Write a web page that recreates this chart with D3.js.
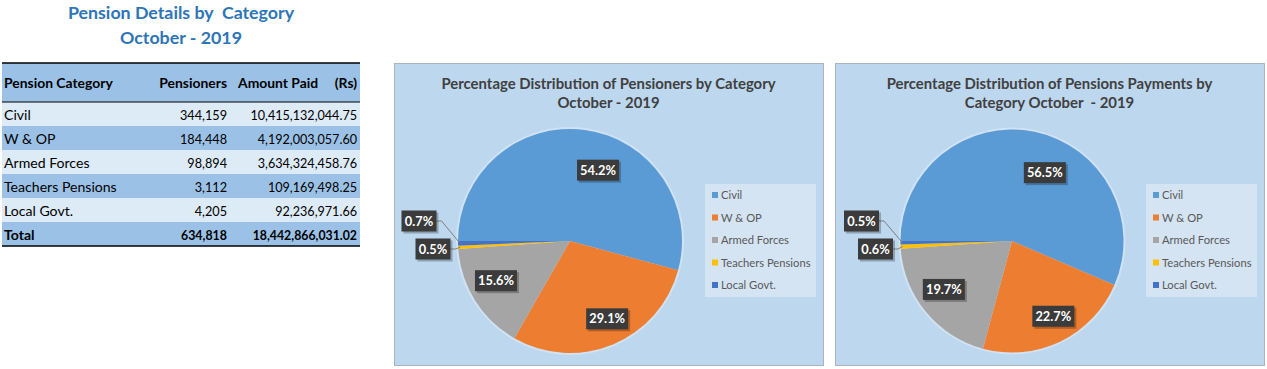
<!DOCTYPE html>
<html>
<head>
<meta charset="utf-8">
<script src="https://cdn.jsdelivr.net/npm/d3@7"></script>
<style>
  html, body { margin: 0; padding: 0; background: #ffffff; }
  svg { display: block; font-family: Lato, "Open Sans", sans-serif; }
  text { white-space: pre; }
</style>
</head>
<body>
<svg id="chart" width="1267" height="369"></svg>
<script>
// ---------- DATA ----------
const tableTitle = ["Pension Details by  Category", "October - 2019"];
const tableHeaders = ["Pension Category", "Pensioners", "Amount Paid", "(Rs)"];
const categories = ["Civil", "W & OP", "Armed Forces", "Teachers Pensions", "Local Govt."];
const pensioners = [344159, 184448, 98894, 3112, 4205];
const amountPaid = [10415132044.75, 4192003057.60, 3634324458.76, 109169498.25, 92236971.66];
const totalLabel = "Total";
const pie1Title = ["Percentage Distribution of Pensioners by Category", "October - 2019"];
const pie2Title = ["Percentage Distribution of Pensions Payments by", "Category October  - 2019"];

// ---------- STYLE / LAYOUT ----------
const sliceColors = ["#5B9BD5", "#ED7D31", "#A5A5A5", "#FFC000", "#4472C4"];
// label placement per slice: inside labels (angle offset deg, radius fraction), outside labels (dx beyond left edge, dy)
const labelLayout = [
  { inside: true, da: 14, rf: 0.68 },
  { inside: true, da: -3, rf: 0.77 },
  { inside: true, da: 4, rf: 0.75 },
  { inside: false, dx: -25, dy: 8 },
  { inside: false, dx: -39, dy: -20 }
];

const svg = d3.select("#chart");
const fmtInt = d3.format(",");
const fmtAmt = d3.format(",.2f");
const fmtPct = d3.format(".1%");

// ---------- TABLE ----------
const tX0 = 2, tX1 = 360;
const title = svg.append("g").attr("fill", "#2E75B6").attr("font-weight", "bold").attr("font-size", 17.8).attr("text-anchor", "middle");
title.append("text").attr("x", 181).attr("y", 19).text(tableTitle[0]);
title.append("text").attr("x", 181).attr("y", 44).text(tableTitle[1]);

const headerTop = 63, headerH = 39, rowH = 24;
const dark = "#9BC2E6", light = "#DDEBF7";
svg.append("rect").attr("x", tX0).attr("y", headerTop).attr("width", tX1 - tX0).attr("height", headerH).attr("fill", dark);

const rows = categories.map((c, i) => ({ name: c, p: pensioners[i], a: amountPaid[i], bold: false }));
rows.push({ name: totalLabel, p: d3.sum(pensioners), a: d3.sum(amountPaid), bold: true });

const colP = 227, colA = 357;
const rowG = svg.append("g").selectAll("g").data(rows).join("g")
  .attr("transform", (d, i) => `translate(0,${headerTop + headerH + i * rowH})`);
rowG.append("rect").attr("x", tX0).attr("width", tX1 - tX0).attr("height", rowH)
  .attr("fill", (d, i) => i % 2 === 0 ? light : dark);
rowG.append("text").attr("x", 4).attr("y", 18).attr("font-size", 14.1).attr("fill", "#000")
  .attr("font-weight", d => d.bold ? "bold" : "normal").text(d => d.name);
rowG.append("text").attr("x", colP).attr("y", 18).attr("text-anchor", "end")
  .attr("font-size", d => d.bold ? 12.4 : 12.7)
  .attr("font-weight", d => d.bold ? "bold" : "normal").text(d => fmtInt(d.p));
rowG.append("text").attr("x", colA).attr("y", 18).attr("text-anchor", "end")
  .attr("font-size", d => d.bold ? 12.3 : 12.6)
  .attr("font-weight", d => d.bold ? "bold" : "normal").text(d => fmtAmt(d.a));

const hdr = svg.append("g").attr("font-weight", "bold").attr("font-size", 13.9).attr("fill", "#000");
hdr.append("text").attr("x", 4).attr("y", 88).text(tableHeaders[0]);
hdr.append("text").attr("x", colP).attr("y", 88).attr("text-anchor", "end").text(tableHeaders[1]);
hdr.append("text").attr("x", 238).attr("y", 88).text(tableHeaders[2]);
hdr.append("text").attr("x", colA).attr("y", 88).attr("text-anchor", "end").text(tableHeaders[3]);

const tableBottom = headerTop + headerH + rows.length * rowH;
svg.append("line").attr("x1", tX0).attr("x2", tX1).attr("y1", headerTop).attr("y2", headerTop).attr("stroke", "#000").attr("stroke-width", 1.5);
svg.append("line").attr("x1", tX0).attr("x2", tX1).attr("y1", headerTop + headerH).attr("y2", headerTop + headerH).attr("stroke", "#000").attr("stroke-width", 1);
svg.append("line").attr("x1", tX0).attr("x2", tX1).attr("y1", tableBottom).attr("y2", tableBottom).attr("stroke", "#000").attr("stroke-width", 1.5);

// ---------- PIES ----------
function drawPie(opts) {
  const { x, y, w, h, values, titleLines, cx, cy, r } = opts;
  const g = svg.append("g");
  g.append("rect").attr("x", x + 0.5).attr("y", y + 0.5).attr("width", w).attr("height", h)
    .attr("fill", "#BDD7EE").attr("stroke", "#A9B4BF").attr("stroke-width", 1);

  const tg = g.append("g").attr("font-weight", "bold").attr("font-size", 14.9).attr("fill", "#404040").attr("text-anchor", "middle");
  tg.append("text").attr("x", x + w / 2).attr("y", y + 26).text(titleLines[0]);
  tg.append("text").attr("x", x + w / 2).attr("y", y + 45).text(titleLines[1]);

  const total = d3.sum(values);
  const pie = d3.pie().sort(null).startAngle(-Math.PI / 2).endAngle(1.5 * Math.PI);
  const arcs = pie(values).map((a, i) => ({ ...a, i }));
  const arc = d3.arc().innerRadius(0).outerRadius(r);

  const pg = g.append("g").attr("transform", `translate(${cx},${cy})`);
  pg.append("circle").attr("r", r + 2).attr("fill", "#DCE9F6").attr("opacity", 0.6);
  pg.selectAll("path").data(arcs).join("path").attr("d", arc).attr("fill", d => sliceColors[d.i]);

  // labels
  arcs.forEach(d => {
    const L = labelLayout[d.i];
    const mid = (d.startAngle + d.endAngle) / 2;
    const txt = fmtPct(d.value / total);
    let lx, ly;
    if (L.inside) {
      const a = mid + L.da * Math.PI / 180;
      lx = Math.sin(a) * r * L.rf;
      ly = -Math.cos(a) * r * L.rf;
    } else {
      lx = -r + L.dx;
      ly = L.dy;
    }
    const bw = txt.length > 4 ? 42 : 35, bh = 21;
    if (!L.inside) {
      const ex = Math.sin(mid) * (r - 2), ey = -Math.cos(mid) * (r - 2);
      const sx = lx + bw / 2;
      pg.append("path")
        .attr("d", d3.line()([[sx, ly], [sx + 5, ly], [ex, ey]]))
        .attr("fill", "none").attr("stroke", "#7F7F7F").attr("stroke-width", 1);
    }
    pg.append("rect").attr("x", lx - bw / 2 + 2).attr("y", ly - bh / 2 + 2).attr("width", bw).attr("height", bh)
      .attr("fill", "#000").attr("opacity", 0.25);
    pg.append("rect").attr("x", lx - bw / 2).attr("y", ly - bh / 2).attr("width", bw).attr("height", bh)
      .attr("fill", "#3B3B3B");
    pg.append("text").attr("x", lx).attr("y", ly + 4.6).attr("text-anchor", "middle")
      .attr("font-size", 12.8).attr("font-weight", "bold").attr("fill", "#fff").text(txt);
  });

  // legend
  const lgX = x + 311, lgY = 184, lgW = 111, lgH = 113;
  g.append("rect").attr("x", lgX).attr("y", lgY).attr("width", lgW).attr("height", lgH).attr("fill", "#D4E4F3");
  const li = g.selectAll(".li").data(categories).join("g")
    .attr("transform", (d, i) => `translate(${lgX},${lgY + 11 + i * 22.5})`);
  li.append("rect").attr("x", 7).attr("y", -3).attr("width", 6).attr("height", 6).attr("fill", (d, i) => sliceColors[i]);
  li.append("text").attr("x", 16).attr("y", 4).attr("font-size", 11.2).attr("fill", "#595959").text(d => d);
}

drawPie({ x: 394, y: 63, w: 429, h: 302, values: pensioners, titleLines: pie1Title, cx: 570, cy: 241, r: 112 });
drawPie({ x: 835, y: 63, w: 429, h: 302, values: amountPaid, titleLines: pie2Title, cx: 1012, cy: 241, r: 111.5 });
</script>
</body>
</html>
